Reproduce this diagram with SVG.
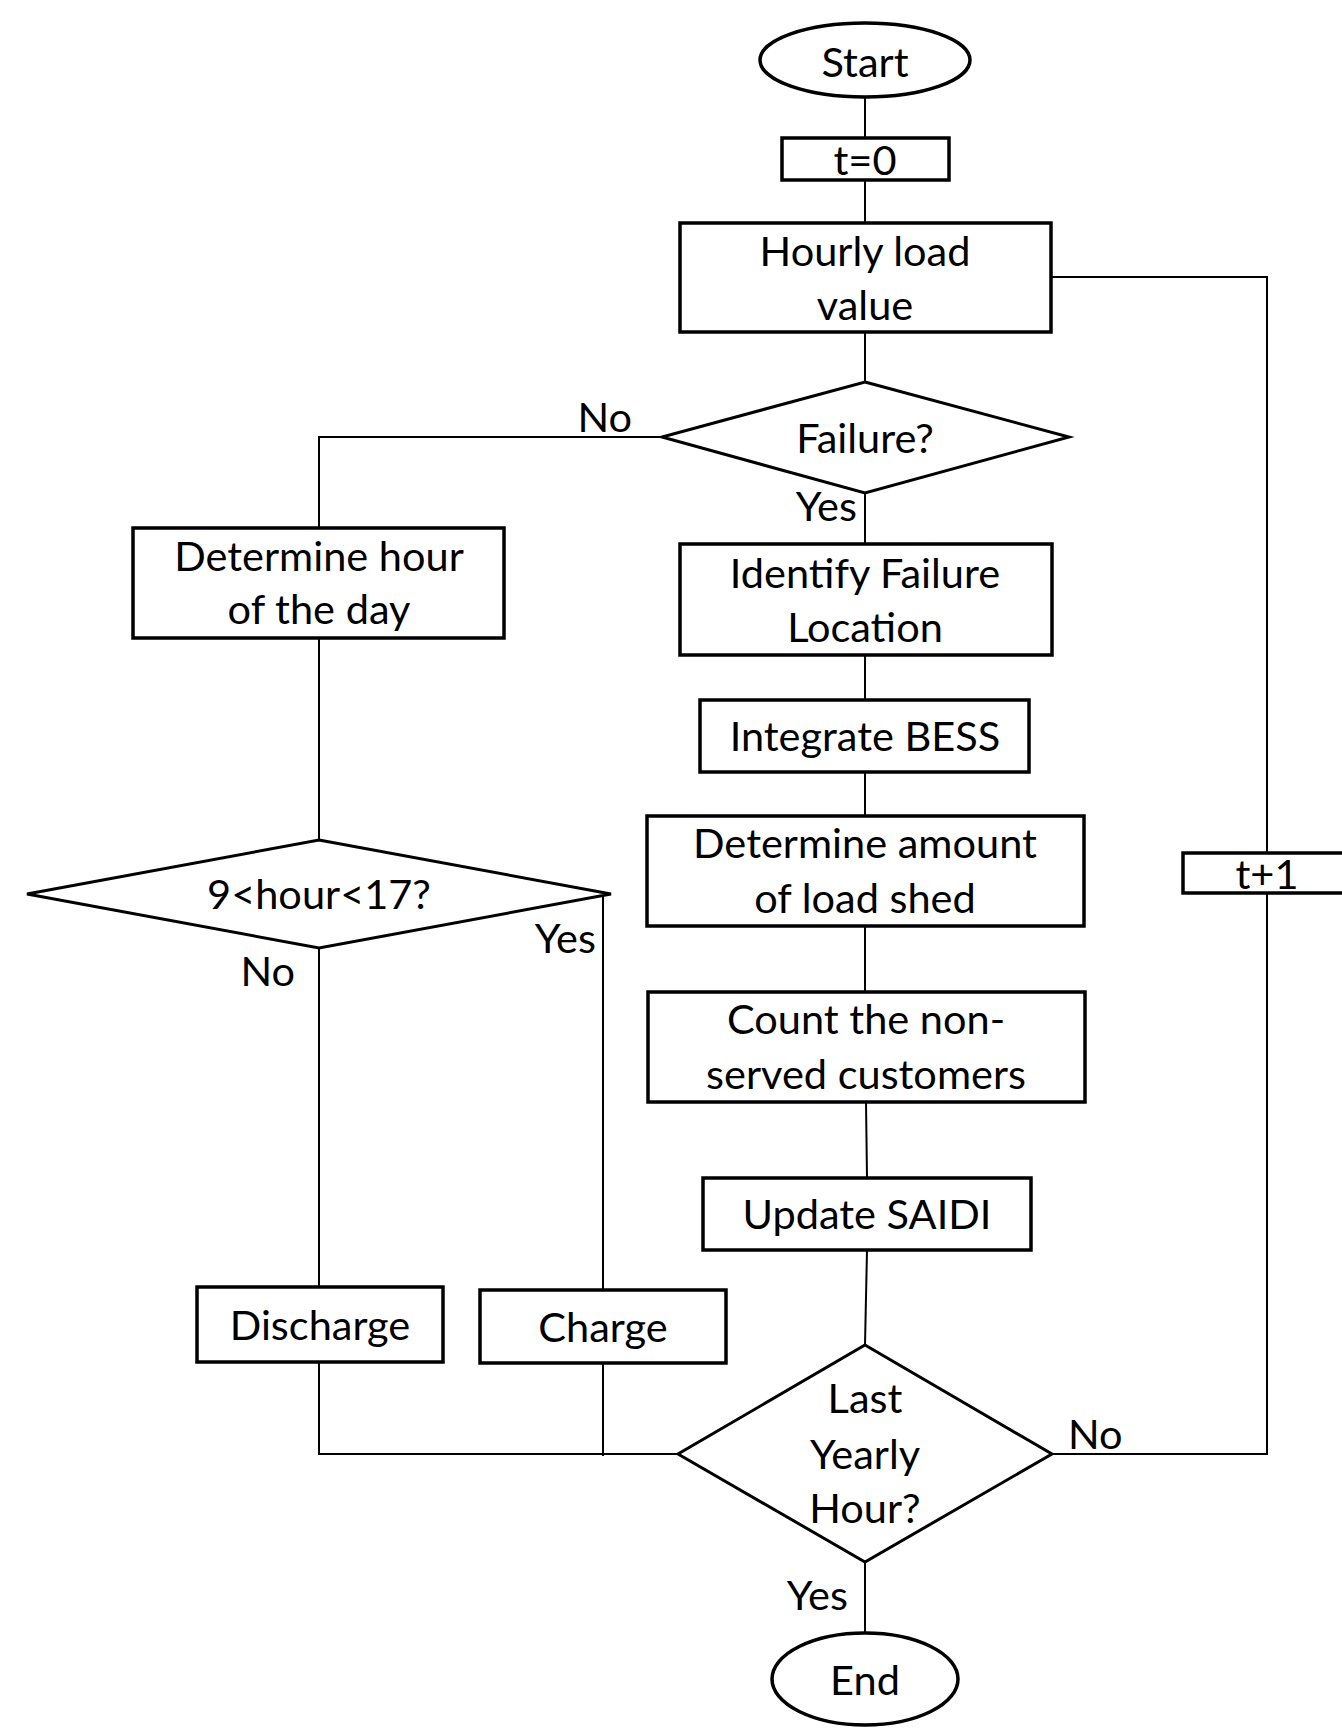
<svg xmlns="http://www.w3.org/2000/svg" width="1342" height="1728" viewBox="0 0 1342 1728">
  <style>
    .shape { fill: #ffffff; stroke: #000000; stroke-width: 3.5; }
    .dia { fill: #ffffff; stroke: #000000; stroke-width: 3; }
    .wire { fill: none; stroke: #000000; stroke-width: 2; }
    text { font-family: Lato, "Liberation Sans", sans-serif; font-size: 41.5px; fill: #000000; }
    .c { text-anchor: middle; }
    .e { text-anchor: end; }
  </style>
  <rect x="0" y="0" width="1342" height="1728" fill="#ffffff"/>

  <!-- connectors -->
  <g id="connectors">
    <path class="wire" d="M865 97 V138"/>
    <path class="wire" d="M865 180 V223"/>
    <path class="wire" d="M865 332 V382"/>
    <path class="wire" d="M865 493 V544"/>
    <path class="wire" d="M865 655 V700"/>
    <path class="wire" d="M865 772 V816"/>
    <path class="wire" d="M865 926 V992"/>
    <path class="wire" d="M866 1102 L867 1178"/>
    <path class="wire" d="M867 1250 L865 1345"/>
    <path class="wire" d="M865 1562 V1633"/>
    <path class="wire" d="M1051 277 H1267 V853"/>
    <path class="wire" d="M1267 893 V1454 H1052"/>
    <path class="wire" d="M662 437 H319 V528"/>
    <path class="wire" d="M319 638 V840"/>
    <path class="wire" d="M319 948 V1287"/>
    <path class="wire" d="M319 1362 V1454 H678"/>
    <path class="wire" d="M603 893 V1290"/>
    <path class="wire" d="M603 1363 V1456"/>
  </g>

  <!-- labels on connectors -->
  <g id="edge-labels">
    <text x="632" y="432" class="e">No</text>
    <text x="857" y="521" class="e">Yes</text>
    <text x="596" y="953" class="e">Yes</text>
    <text x="295" y="986" class="e">No</text>
    <text x="1068" y="1449">No</text>
    <text x="848" y="1610" class="e">Yes</text>
  </g>

  <g id="start">
    <ellipse class="shape" cx="865" cy="60" rx="105" ry="37"/>
    <text x="865" y="77" class="c">Start</text>
  </g>

  <g id="t0">
    <rect class="shape" x="782" y="138" width="167" height="42"/>
    <text x="865" y="175" class="c">t=0</text>
  </g>

  <g id="hourly-load">
    <rect class="shape" x="680" y="223" width="371" height="109"/>
    <text x="865" y="266" class="c">Hourly load</text>
    <text x="865" y="320" class="c">value</text>
  </g>

  <g id="failure">
    <polygon class="dia" points="865,382 1069,437 865,493 662,437"/>
    <text x="865" y="453" class="c">Failure?</text>
  </g>

  <g id="identify-location">
    <rect class="shape" x="680" y="544" width="372" height="111"/>
    <text x="865" y="588" class="c">Identify Failure</text>
    <text x="865" y="642" class="c">Location</text>
  </g>

  <g id="integrate-bess">
    <rect class="shape" x="700" y="700" width="329" height="72"/>
    <text x="865" y="751" class="c">Integrate BESS</text>
  </g>

  <g id="load-shed">
    <rect class="shape" x="647" y="816" width="437" height="110"/>
    <text x="865" y="858" class="c">Determine amount</text>
    <text x="865" y="913" class="c">of load shed</text>
  </g>

  <g id="count-customers">
    <rect class="shape" x="648" y="992" width="437" height="110"/>
    <text x="866" y="1034" class="c">Count the non-</text>
    <text x="866" y="1089" class="c">served customers</text>
  </g>

  <g id="update-saidi">
    <rect class="shape" x="703" y="1178" width="328" height="72"/>
    <text x="867" y="1229" class="c">Update SAIDI</text>
  </g>

  <g id="hour-of-day">
    <rect class="shape" x="133" y="528" width="371" height="110"/>
    <text x="319" y="571" class="c">Determine hour</text>
    <text x="319" y="624" class="c">of the day</text>
  </g>

  <g id="hour-window">
    <polygon class="dia" points="319,840 611,894 319,948 27,894"/>
    <text x="319" y="909" class="c">9&lt;hour&lt;17?</text>
  </g>

  <g id="discharge">
    <rect class="shape" x="197" y="1287" width="246" height="75"/>
    <text x="320" y="1340" class="c">Discharge</text>
  </g>

  <g id="charge">
    <rect class="shape" x="480" y="1290" width="246" height="73"/>
    <text x="603" y="1342" class="c">Charge</text>
  </g>

  <g id="last-hour">
    <polygon class="dia" points="865,1345 1052,1454 865,1562 678,1454"/>
    <text x="865" y="1413" class="c">Last</text>
    <text x="865" y="1469" class="c">Yearly</text>
    <text x="865" y="1523" class="c">Hour?</text>
  </g>

  <g id="t-plus-1">
    <rect class="shape" x="1183" y="853" width="168" height="40"/>
    <text x="1267" y="889" class="c">t+1</text>
  </g>

  <g id="end">
    <ellipse class="shape" cx="865" cy="1679" rx="93" ry="46"/>
    <text x="865" y="1695" class="c">End</text>
  </g>
</svg>
